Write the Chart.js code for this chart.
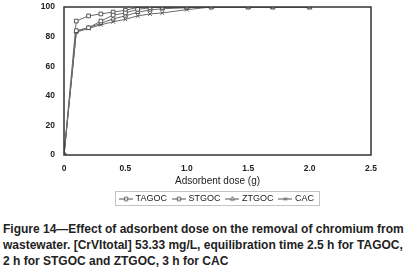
<!DOCTYPE html>
<html>
<head>
<meta charset="utf-8">
<script src="https://cdn.jsdelivr.net/npm/chart.js@4"></script>
<style>
  body { margin: 0; background: #fff; width: 417px; height: 276px; overflow: hidden; }
  #wrap { position: relative; width: 417px; height: 213px; }
  #caption {
    margin: 8px 0 0 3px;
    font: bold 12px "Liberation Sans", Arial, sans-serif;
    line-height: 16px;
    color: #222;
    white-space: nowrap;
  }
</style>
</head>
<body>
<div id="wrap"><canvas id="chart" width="417" height="213"></canvas></div>
<div id="caption">Figure 14—Effect of adsorbent dose on the removal of chromium from<br>wastewater. [CrVItotal] 53.33 mg/L, equilibration time 2.5 h for TAGOC,<br>2 h for STGOC and ZTGOC, 3 h for CAC</div>
<script>
// adsorbent dose (g)
const doses = [0, 0.1, 0.2, 0.3, 0.4, 0.5, 0.6, 0.7, 0.8, 1.0, 1.2, 1.5, 1.7, 2.0];
// removal (%)
const tagoc = [0, 84, 86, 90.5, 94.5, 96, 98.4, 99.5, 99.8, 100, 100, 100, 100, 100];
const stgoc = [0, 90.5, 94, 95.3, 96.6, 97.8, 99.8, 100, 100, 100, 100, 100, 100, 100];
const ztgoc = [0, 83.5, 86, 89, 92, 94, 96.5, 98, 98.8, 99.5, 100, 100, 100, 100];
const cac = [0, 83, 85.5, 88, 90, 91.7, 94, 95.3, 96, 98.2, 100, 100, 100, 100];
const seriesNames = ['TAGOC', 'STGOC', 'ZTGOC', 'CAC'];
const seriesStyles = ['rect', 'rect', 'triangle', 'crossRot'];
const xTicks = [0, 0.5, 1, 1.5, 2, 2.5];

const lineColor = '#6a6a6a';
const markColor = '#555';

function makeSet(name, values, style) {
    return {
        label: name,
        data: doses.map((d, i) => ({ x: d, y: values[i] })),
        borderColor: lineColor,
        borderWidth: 1,
        pointStyle: style,
        pointRadius: 2.6,
        pointBorderColor: markColor,
        pointBackgroundColor: '#fff',
        pointBorderWidth: 1,
        tension: 0
    };
}

function legendIcon(style) {
    const c = document.createElement('canvas');
    c.width = 14; c.height = 8;
    const ctx = c.getContext('2d');
    ctx.strokeStyle = markColor;
    ctx.fillStyle = '#fff';
    ctx.lineWidth = 1;
    ctx.beginPath();
    ctx.moveTo(0, 4.5); ctx.lineTo(14, 4.5);
    ctx.stroke();
    Chart.helpers.drawPoint(ctx, { pointStyle: style, radius: 2.3, borderWidth: 1 }, 7, 4.5);
    return c;
}

// centre the legend under the plot area and box it
const legendBox = {
    id: 'legendBox',
    afterLayout(chart) {
        const l = chart.legend;
        const a = chart.chartArea;
        const dx = (a.left + a.right) / 2 - (l.left + l.right) / 2;
        l.left += dx;
        l.right += dx;
    },
    afterDraw(chart) {
        const boxes = chart.legend.legendHitBoxes;
        if (!boxes || !boxes.length) return;
        const first = boxes[0];
        const last = boxes[boxes.length - 1];
        const ctx = chart.ctx;
        ctx.save();
        ctx.strokeStyle = '#c4c4c4';
        ctx.lineWidth = 1;
        const x0 = Math.round(first.left - 6) + 0.5;
        const x1 = Math.round(last.left + last.width + 5) + 0.5;
        const y0 = Math.round(first.top - 3) + 0.5;
        ctx.strokeRect(x0, y0, x1 - x0, 14);
        ctx.restore();
    }
};

// frame around the plot area
const frame = {
    id: 'frame',
    afterDatasetsDraw(chart) {
        const a = chart.chartArea;
        const ctx = chart.ctx;
        ctx.save();
        ctx.strokeStyle = '#333';
        ctx.lineWidth = 1.5;
        ctx.strokeRect(a.left, a.top, a.right - a.left, a.bottom - a.top);
        ctx.restore();
    }
};

new Chart(document.getElementById('chart'), {
    type: 'line',
    data: {
        datasets: [
            makeSet(seriesNames[0], tagoc, seriesStyles[0]),
            makeSet(seriesNames[1], stgoc, seriesStyles[1]),
            makeSet(seriesNames[2], ztgoc, seriesStyles[2]),
            makeSet(seriesNames[3], cac, seriesStyles[3])
        ]
    },
    options: {
        responsive: false,
        animation: false,
        layout: { padding: { top: 7, right: 46, left: 0, bottom: 0 } },
        plugins: {
            tooltip: { enabled: false },
            legend: {
                position: 'bottom',
                labels: {
                    color: '#222',
                    font: { family: 'Liberation Sans', size: 9 },
                    boxWidth: 10,
                    boxHeight: 8,
                    pointStyleWidth: 10,
                    padding: 7,
                    usePointStyle: true,
                    generateLabels(chart) {
                        return chart.data.datasets.map((ds, i) => ({
                            text: ds.label,
                            pointStyle: legendIcon(seriesStyles[i]),
                            datasetIndex: i,
                            hidden: false,
                            fontColor: '#222'
                        }));
                    }
                }
            }
        },
        scales: {
            x: {
                type: 'linear',
                min: 0,
                max: 2.5,
                afterBuildTicks(scale) {
                    scale.ticks = xTicks.map(v => ({ value: v }));
                },
                afterFit(scale) { scale.height = 32; },
                grid: { display: false, drawTicks: false },
                border: { display: false },
                ticks: {
                    color: '#222',
                    padding: 9,
                    maxRotation: 0,
                    font: { family: 'Liberation Sans', size: 8.5, weight: 'bold' }
                },
                title: {
                    display: true,
                    text: 'Adsorbent dose (g)',
                    color: '#222',
                    padding: { top: 1, bottom: 0 },
                    font: { family: 'Liberation Sans', size: 10 }
                }
            },
            y: {
                min: 0,
                max: 100,
                afterFit(scale) {
                    scale.width = 64;
                    scale.paddingTop = 0;
                    scale.paddingBottom = 0;
                },
                grid: { display: false, drawTicks: false },
                border: { display: false },
                ticks: {
                    stepSize: 20,
                    color: '#222',
                    padding: 9,
                    font: { family: 'Liberation Sans', size: 8.5, weight: 'bold' }
                }
            }
        }
    },
    plugins: [frame, legendBox]
});
</script>
</body>
</html>
